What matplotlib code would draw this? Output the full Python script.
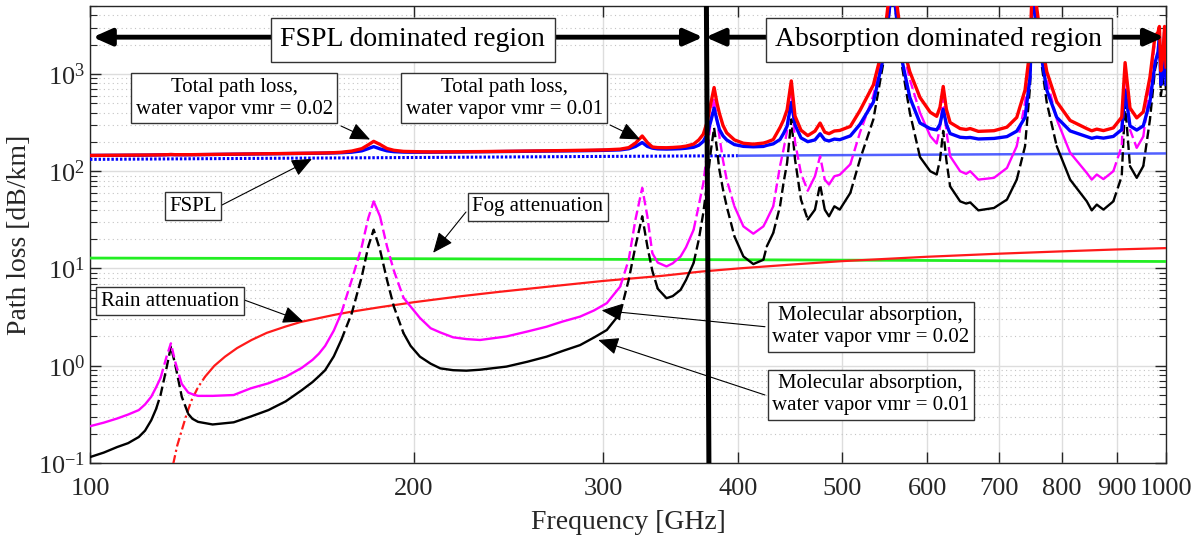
import numpy as np
import matplotlib
matplotlib.use('Agg')
import matplotlib.pyplot as plt
from matplotlib.patches import ArrowStyle

# ---- data (GHz, dB/km) ----
freq = [100, 103, 106, 108.5, 111, 112.5, 114, 115.2, 116.3, 117.8, 118.9, 120.0, 121.7, 123.4,
        124.5, 126, 130, 136, 141, 146.5, 149, 152, 157.3, 161, 163.2, 165.4, 168.5, 171.2,
        175.1, 178.9, 181.4, 183.5, 186.0, 188.8, 191.6, 195.6, 198.6, 202.6, 207.3, 211.6,
        217.5, 223.8, 230.4, 243.8, 255, 265.7, 275, 285.4, 294, 302.2, 311.0,
        316.7, 321.3, 326.0, 329.6, 333.1, 337, 343.4, 348, 353.9, 358, 363.9, 368,
        371.5, 374.6, 377.5, 380.2, 382.5, 384.5, 387.5, 390.6, 397.1, 404.8, 413.5, 422.5,
        425.6, 431.5, 437.8, 441.1, 444.5, 448.5, 452.1, 457.9, 464.6, 471.8, 477.0, 481.8,
        486.2, 491.8, 497.5, 508.9, 519.5, 534.6, 546.2, 552, 557, 562, 568, 578, 590.7,
        603.8, 612.2, 616.5, 620.8, 625, 630, 643.7, 652, 657.7, 669.3, 692, 711.5, 726.6,
        739.6, 747.6, 752, 756, 763.8, 774.8, 791.5, 814.5, 844.1, 853.1, 862.3, 874.7,
        893.4, 909.6, 916.2, 925.8, 939.3, 952.6, 966.3, 976.8, 983, 986, 989, 993, 997, 1000]

abs_vmr01 = [0.115, 0.128, 0.146, 0.16, 0.185, 0.215, 0.275, 0.36, 0.50, 0.95, 1.57, 1.03, 0.48,
             0.32, 0.285, 0.265, 0.249, 0.262, 0.30, 0.35, 0.385, 0.43, 0.56, 0.68, 0.78, 0.90,
             1.25, 1.84, 3.47, 8.27, 16.9, 25.1, 15.6, 7.65, 4.06, 2.16, 1.6, 1.24, 1.05, 0.94,
             0.90, 0.89, 0.91, 0.98, 1.10, 1.24, 1.42, 1.63, 1.95, 2.33, 3.47,
             7.65, 16.9, 34.4, 16.9, 9.5, 6.2, 4.95, 5.2, 6.03, 7.6, 11.4, 20, 37.2, 75, 160, 280,
             170, 104, 65, 43.6, 21.4, 13.3, 11.1, 12.3, 16.9, 23.2, 43.6, 75.9, 122, 341, 132,
             51, 31.9, 40.3, 73, 40.3, 34.4, 43.6, 40.3, 59.9, 132, 341, 1311, 3500, 9000, 3500,
             1260, 400, 140, 100, 92.5, 130, 260, 130, 70, 49, 46.5, 47.8, 39.6, 41.9, 51.1, 82,
             181, 752, 8000, 4000, 1660, 507, 181, 82, 49, 39.6, 45.4, 40.3, 49, 88.8, 500, 113,
             85.5, 113, 341, 1117, 1500, 2200, 600, 800, 2500, 600]

abs_vmr02 = [0.239, 0.26, 0.287, 0.315, 0.35, 0.40, 0.48, 0.6, 0.75, 1.24, 1.70, 1.10, 0.65,
             0.53, 0.51, 0.49, 0.49, 0.50, 0.585, 0.66, 0.71, 0.77, 0.95, 1.15, 1.33, 1.6, 2.3,
             3.47, 7.65, 16.9, 33, 49, 34.4, 16.9, 9.5, 5.0, 4.06, 3.1, 2.43, 2.2, 1.96, 1.88,
             1.84, 2.0, 2.25, 2.52, 2.85, 3.2, 3.7, 4.4, 6.52,
             12.3, 31.8, 67.4, 34.4, 14.4, 11.5, 10.5, 11.3, 13.3, 16.5, 25, 45, 75, 155, 330, 560,
             340, 230, 130, 82, 43.6, 27.1, 22.8, 27.1, 31.8, 43.6, 113, 167, 260, 680, 200, 95,
             63, 88.8, 143, 82, 73, 88.8, 92, 118, 250, 600, 1800, 5200, 13000, 5200, 2000, 880,
             400, 230, 193, 280, 570, 260, 143, 100, 94, 100, 82, 85.5, 108, 181, 507, 1660,
             12000, 6000, 2460, 880, 341, 155, 96, 82, 92.5, 83, 100, 181, 1130, 268, 174, 228,
             752, 2280, 2500, 2900, 900, 1300, 2900, 1000]

total_vmr01 = [145.3, 145.5, 145.8, 146.1, 146.3, 146.4, 146.7, 146.9, 147.1, 147.7, 148.4, 147.9,
               147.6, 147.7, 147.9, 148.1, 148.7, 149.7, 150.3, 151.0, 151.3, 151.6, 152.4, 152.9,
               153.2, 153.5, 154.2, 155.0, 157.0, 162.0, 170.8, 179.1, 169.8, 162.1, 158.8, 157.2,
               156.8, 156.7, 156.9, 157.0, 157.4, 157.9, 158.3, 159.3, 160.0, 160.7, 161.5, 162.4,
               163.3, 164.1, 165.7,
               170.2, 179.6, 197.3, 180.0, 172.8, 169.7, 168.9, 169.4, 170.5, 172.3, 176.4, 185.2,
               202.6, 240.5, 325.6, 445.7, 335.8, 269.9, 231.1, 209.8, 187.9, 180.1, 178.3, 179.9,
               184.6, 191.2, 211.9, 244.3, 290.6, 509.8, 300.9, 220.2, 201.3, 210.0, 242.9, 210.4,
               204.7, 214.1, 211.0, 230.9, 303.3, 512.7, 1483, 3672, 9172, 3672, 1433, 573, 313,
               274, 266, 304, 434, 304, 244, 223.5, 221, 222.5, 214.6, 217.4, 227, 258.2, 357.4,
               928.5, 8177, 4177, 1837, 684, 358, 259.7, 227.2, 218, 223.9, 219, 227.9, 267.9, 679,
               292.4, 265.1, 292.8, 521, 1297, 1680, 2380, 780, 980, 2680, 780]

total_vmr02 = [145.4, 145.7, 146.0, 146.2, 146.5, 146.6, 146.9, 147.1, 147.4, 147.9, 148.5, 148.0,
               147.8, 147.9, 148.1, 148.3, 149.0, 149.9, 150.6, 151.3, 151.6, 152.0, 152.8, 153.4,
               153.7, 154.2, 155.2, 156.7, 161.2, 170.6, 186.9, 203.0, 188.6, 171.3, 164.2, 160.0,
               159.3, 158.6, 158.2, 158.3, 158.5, 158.9, 159.2, 160.3, 161.2, 162.0, 163.0, 164.0,
               165.0, 166.2, 168.7,
               174.8, 194.5, 230.3, 197.5, 177.7, 175.0, 174.4, 175.5, 177.8, 181.2, 190.0, 210.2,
               240.4, 320.5, 495.6, 725.7, 505.8, 395.9, 296.1, 248.2, 210.1, 193.9, 190.0, 194.7,
               199.5, 211.6, 281.3, 335.4, 428.6, 848.8, 368.9, 264.2, 232.4, 258.5, 312.9, 252.1,
               243.3, 259.3, 262.7, 289.0, 421.3, 771.7, 1972, 5372, 13172, 5372, 2173, 1053, 573,
               404, 367, 454, 744, 434, 317, 274.5, 268.6, 274.7, 257, 261, 283.9, 357.2, 683.4,
               1836.5, 12177, 6177, 2637, 1057, 518, 332.7, 274.2, 260.4, 271, 261.7, 278.9, 360.1,
               1309, 447.4, 353.6, 407.8, 932, 2460, 2680, 3080, 1080, 1480, 3080, 1180]

fspl_freq = [100, 150, 200, 250, 300, 350, 400, 500, 600, 700, 800, 900, 1000]
fspl = [132.4, 136.0, 138.4, 140.4, 142.0, 143.3, 144.4, 146.4, 148.0, 149.3, 150.5, 151.5, 152.4]

rain_freq = [119.5, 120.5, 121.7, 123, 124.3, 126, 127.9, 130.5, 133.5, 137, 141.3, 146, 151.8,
             157, 163.0, 169, 175.1, 186, 200, 220, 240, 270, 300, 340, 370, 400, 450, 500, 600,
             700, 800, 900, 1000]
rain = [0.098, 0.15, 0.217, 0.32, 0.443, 0.6, 0.77, 1.0, 1.24, 1.52, 1.84, 2.18, 2.52, 2.82,
        3.08, 3.35, 3.6, 4.0, 4.5, 5.15, 5.75, 6.6, 7.45, 8.4, 9.3, 10.0, 11.0, 11.9, 13.2,
        14.2, 15.0, 15.7, 16.2]

fog_freq = [100, 200, 400, 600, 800, 1000]
fog = [12.8, 12.6, 12.3, 12.1, 11.9, 11.8]

boundary_freq = [374, 376]
boundary_loss = [5000, 0.1]

xticks = [100, 200, 300, 400, 500, 600, 700, 800, 900, 1000]

plt.rcParams['font.family'] = ['Liberation Serif', 'DejaVu Serif']
plt.rcParams['mathtext.fontset'] = 'custom'
plt.rcParams['mathtext.rm'] = 'Liberation Serif'
plt.rcParams['mathtext.it'] = 'Liberation Serif:italic'
plt.rcParams['axes.unicode_minus'] = False

fig = plt.figure(figsize=(11.99, 5.42), dpi=100)
ax = fig.add_axes([90 / 1199, 79 / 542, 1076 / 1199, 457 / 542])
ax.set_xscale('log')
ax.set_yscale('log')
ax.set_xlim(100, 1000)
ax.set_ylim(0.1, 5000)


def plot_split(x, y, color, lw, steep_ls, z, ratio=2.5):
    # solid where the curve is flat, dashed where it is steep (as MATLAB renders it)
    x = np.asarray(x, float)
    y = np.asarray(y, float)
    p = ax.transData.transform(np.column_stack([x, y]))
    d = np.diff(p, axis=0)
    steep = np.abs(d[:, 1]) > ratio * np.abs(d[:, 0])
    start = 0
    for i in range(1, len(steep) + 1):
        if i == len(steep) or steep[i] != steep[start]:
            s = slice(start, i + 1)
            ax.plot(x[s], y[s], color=color, lw=lw, ls=steep_ls if steep[start] else '-',
                    zorder=z, solid_capstyle='round')
            start = i


f_arr = np.array(fspl_freq)
ax.plot(f_arr[f_arr <= 400], np.array(fspl)[f_arr <= 400], color='#0000ff', lw=2.2,
        ls=(0, (0.8, 0.6)), zorder=3)
ax.plot(f_arr[f_arr >= 400], np.array(fspl)[f_arr >= 400], color='#3344ff', lw=1.8,
        alpha=0.85, zorder=3)
ax.plot(fog_freq, fog, color='#22ee22', lw=2.0, zorder=3)
plot_split(rain_freq, rain, '#ff1a1a', 1.6, (0, (4, 1.5, 1, 1.5)), 4, ratio=1.5)
plot_split(freq, abs_vmr01, 'black', 1.7, (0, (4, 1.8)), 5)
plot_split(freq, abs_vmr02, '#ff00ff', 1.7, (0, (4, 1.8)), 5)
ax.plot(freq, total_vmr01, color='#0000ff', lw=2.4, zorder=6)
ax.plot(freq, total_vmr02, color='#ff0000', lw=2.4, zorder=7)
ax.plot(boundary_freq, boundary_loss, color='black', lw=3.6, zorder=8)

ax.set_xticks(xticks)
ax.set_xticklabels([str(t) for t in xticks])
ax.xaxis.set_minor_locator(matplotlib.ticker.NullLocator())
ax.yaxis.set_major_locator(matplotlib.ticker.LogLocator(base=10))
ax.yaxis.set_minor_locator(matplotlib.ticker.LogLocator(base=10, subs=np.arange(2, 10)))
ax.yaxis.set_minor_formatter(matplotlib.ticker.NullFormatter())
ax.tick_params(which='both', direction='in', top=True, right=True, labelsize=19,
               colors='#262626')
ax.tick_params(which='major', length=8, width=1)
ax.tick_params(which='minor', length=5, width=0.8)
ax.tick_params(axis='x', pad=11)
ax.grid(which='major', color='#dddddd', lw=1.0, ls='-', zorder=0)
ax.yaxis.grid(True, which='minor', color='#c4c4c4', lw=0.8, ls=(0, (1, 3)), zorder=0)
ax.set_axisbelow(True)
for s in ax.spines.values():
    s.set_color('#262626')
    s.set_linewidth(1.0)

ax.set_xlabel('Frequency [GHz]', fontsize=20, color='#262626', labelpad=7)
ax.set_ylabel('Path loss [dB/km]', fontsize=20, color='#262626', labelpad=4)

# region arrows along the top
big = ArrowStyle('<|-|>', head_length=0.45, head_width=0.2)
ax.annotate('', xy=(100.6, 2390), xytext=(371.3, 2390),
            arrowprops=dict(arrowstyle=big, lw=3.5, color='black', mutation_scale=25,
                            shrinkA=0, shrinkB=0), zorder=9)
ax.annotate('', xy=(373.3, 2390), xytext=(995.7, 2390),
            arrowprops=dict(arrowstyle=big, lw=3.5, color='black', mutation_scale=25,
                            shrinkA=0, shrinkB=0), zorder=9)

box = dict(boxstyle='square,pad=0.35', fc='white', ec='#333333', lw=1.0)
ax.text(0.300, 0.926, 'FSPL dominated region', transform=ax.transAxes, fontsize=20,
        ha='center', va='center', bbox=box, zorder=10)
ax.text(0.789, 0.926, 'Absorption dominated region', transform=ax.transAxes, fontsize=20,
        ha='center', va='center', bbox=box, zorder=10)

small = ArrowStyle('-|>', head_length=0.7, head_width=0.3)
notes = [
    ('Total path loss,\nwater vapor vmr = 0.02', (0.134, 0.798), (0.2333, 0.7374), (182.1, 212)),
    ('Total path loss,\nwater vapor vmr = 0.01', (0.385, 0.798), (0.4833, 0.7396), (324.6, 212)),
    ('FSPL', (0.0957, 0.562), (0.1227, 0.5646), (160.8, 134)),
    ('Fog attenuation', (0.416, 0.561), (0.3494, 0.5492), (208.4, 14.5)),
    ('Rain attenuation', (0.0743, 0.354), (0.1434, 0.3567), (157.8, 2.85)),
    ('Molecular absorption,\nwater vapor vmr = 0.02', (0.7257, 0.298), (0.6273, 0.2982), (298.9, 3.71)),
    ('Molecular absorption,\nwater vapor vmr = 0.01', (0.7257, 0.149), (0.6273, 0.1488), (296.7, 1.84)),
]
for label, pos, tail, tip in notes:
    ax.annotate('', xy=tip, xycoords='data', xytext=tail, textcoords='axes fraction',
                arrowprops=dict(arrowstyle=small, lw=0.8, color='black', mutation_scale=18,
                                shrinkA=0, shrinkB=0), zorder=10)
    ax.text(pos[0], pos[1], label, transform=ax.transAxes, fontsize=15, ha='center',
            va='center', multialignment='center', linespacing=1.22,
            bbox=dict(boxstyle='square,pad=0.22', fc='white', ec='#333333', lw=1.0), zorder=11)

fig.savefig('out.png', dpi=100)
